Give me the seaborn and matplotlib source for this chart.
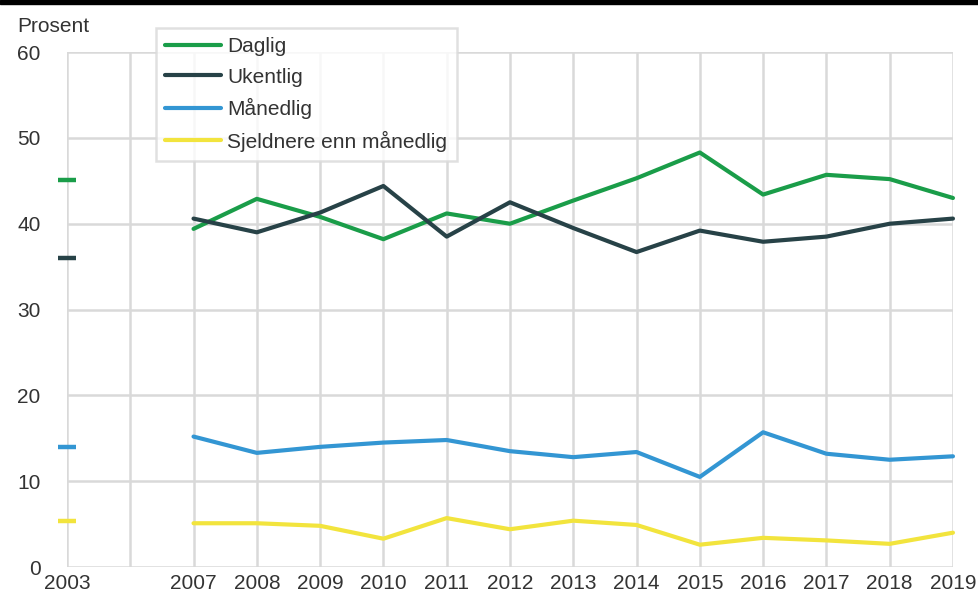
import pandas as pd
import seaborn as sns
import matplotlib.pyplot as plt
from matplotlib.patches import Rectangle

categories = ['2003', '', '2007', '2008', '2009', '2010', '2011', '2012',
              '2013', '2014', '2015', '2016', '2017', '2018', '2019']
years = ['2007', '2008', '2009', '2010', '2011', '2012', '2013',
         '2014', '2015', '2016', '2017', '2018', '2019']

daglig = [39.4, 42.9, 40.8, 38.2, 41.2, 40.0, 42.7, 45.3, 48.3, 43.4, 45.7, 45.2, 43.0]
ukentlig = [40.6, 39.0, 41.3, 44.4, 38.5, 42.5, 39.5, 36.7, 39.2, 37.9, 38.5, 40.0, 40.6]
maanedlig = [15.2, 13.3, 14.0, 14.5, 14.8, 13.5, 12.8, 13.4, 10.5, 15.7, 13.2, 12.5, 12.9]
sjeldnere = [5.1, 5.1, 4.8, 3.3, 5.7, 4.4, 5.4, 4.9, 2.6, 3.4, 3.1, 2.7, 4.0]

series = ['Daglig', 'Ukentlig', 'Månedlig', 'Sjeldnere enn månedlig']
values_2003 = [45.1, 36.0, 14.0, 5.4]
colors = ['#1a9d49', '#274247', '#3396d3', '#f2e43d']

#%%

rows = []
for name, vals in zip(series, [daglig, ukentlig, maanedlig, sjeldnere]):
    for yr, v in zip(years, vals):
        rows.append({'pos': categories.index(yr), 'serie': name, 'verdi': v})
df = pd.DataFrame(rows)
df03 = pd.DataFrame({'pos': [categories.index('2003')] * 4,
                     'serie': series, 'verdi': values_2003})

sns.set_style('white')
plt.rcParams['font.family'] = ['Liberation Sans', 'DejaVu Sans']

fig = plt.figure(figsize=(9.79, 5.92), dpi=100)
ax = fig.add_axes([0.0684, 0.0422, 0.905, 0.8698])

sns.lineplot(data=df, x='pos', y='verdi', hue='serie', hue_order=series,
             palette=colors, linewidth=3, ax=ax, clip_on=False, zorder=3)

for name, col in zip(series, colors):
    d = df03[df03['serie'] == name]
    ax.plot(d['pos'], d['verdi'], marker='_', markersize=13, mew=3.2,
            color=col, linestyle='none', clip_on=False, zorder=3)

ax.set_xlim(0, 14)
ax.set_ylim(0, 60)
ax.set_xticks(range(len(categories)))
ax.set_xticklabels(categories)
ax.set_yticks(range(0, 61, 10))
ax.tick_params(axis='both', length=0, labelsize=15, colors='#333333')
ax.tick_params(axis='y', pad=19)
ax.tick_params(axis='x', pad=5)
ax.grid(True, color='#d9d9d9', linewidth=1.8)
ax.set_axisbelow(True)
for s in ax.spines.values():
    s.set_visible(False)
ax.set_xlabel('')
ax.set_ylabel('')

handles, labels = ax.get_legend_handles_labels()
leg = ax.legend(handles=handles[:4], labels=labels[:4], loc='upper left',
                bbox_to_anchor=(0.100, 1.047), borderaxespad=0,
                fontsize=15, frameon=True, fancybox=False, handlelength=2.7,
                handletextpad=0.3, labelspacing=0.55, borderpad=0.45)
leg.get_frame().set_edgecolor('#d9d9d9')
leg.get_frame().set_linewidth(1.8)
for t in leg.get_texts():
    t.set_color('#333333')

fig.text(0.018, 0.956, 'Prosent', fontsize=15, color='#333333', va='center')
fig.add_artist(Rectangle((0, 1 - 4 / 592), 1, 4 / 592, transform=fig.transFigure,
                         color='black'))

plt.savefig('out.png')
